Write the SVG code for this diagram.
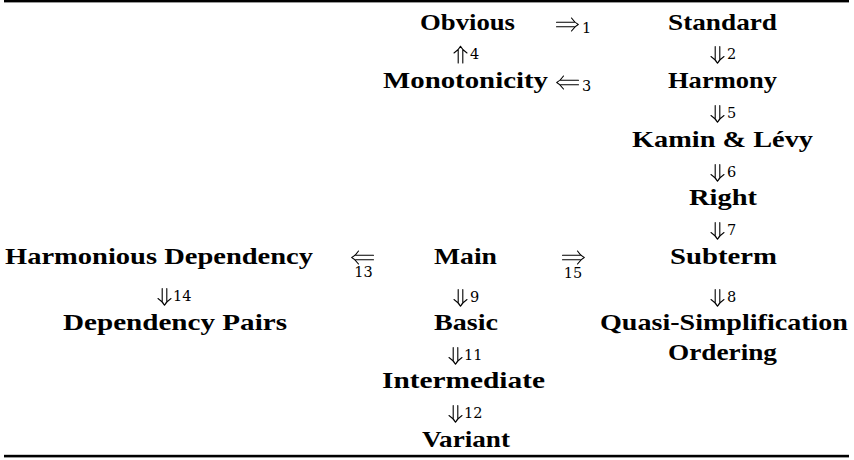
<svg xmlns="http://www.w3.org/2000/svg" xmlns:xlink="http://www.w3.org/1999/xlink" width="854" height="460" viewBox="0 0 854 460">
<style>
.n{font-family:"Liberation Serif","DejaVu Serif",serif;font-weight:bold;font-size:23.5px;fill:#000;text-anchor:middle}
.d{font-family:"DejaVu Serif","Liberation Serif",serif;font-size:14.5px;fill:#000}
.c{text-anchor:middle}
.a{fill:none;stroke:#000;stroke-width:1.1;stroke-linecap:round}
</style>
<defs>
<path id="ra" class="a" d="M-21.5,-2.3H-3.5M-21.5,2.3H-3.5M-6.5,-6.5Q-3,-1.5 0.3,0M-6.5,6.5Q-3,1.5 0.3,0"/>
<path id="da" class="a" d="M-2.3,-16.5V-3.5M2.3,-16.5V-3.5M-6.5,-6.5Q-1.5,-3 0,0.3M6.5,-6.5Q1.5,-3 0,0.3"/>
</defs>
<rect width="854" height="460" fill="#fff"/>
<rect x="4" y="0" width="845" height="2.4" fill="#000"/>
<rect x="4" y="454.8" width="845" height="2.6" fill="#000"/>
<g id="obvious"><text class="n" x="467.5" y="30" textLength="95" lengthAdjust="spacingAndGlyphs">Obvious</text></g>
<g id="standard"><text class="n" x="722.5" y="30" textLength="109" lengthAdjust="spacingAndGlyphs">Standard</text></g>
<g id="monotonicity"><text class="n" x="465.5" y="88" textLength="165" lengthAdjust="spacingAndGlyphs">Monotonicity</text></g>
<g id="harmony"><text class="n" x="722.5" y="88" textLength="109" lengthAdjust="spacingAndGlyphs">Harmony</text></g>
<g id="kamin-levy"><text class="n" x="722.5" y="147" textLength="181" lengthAdjust="spacingAndGlyphs">Kamin &amp; Lévy</text></g>
<g id="right"><text class="n" x="723" y="205" textLength="68" lengthAdjust="spacingAndGlyphs">Right</text></g>
<g id="harmonious-dependency"><text class="n" x="159" y="264" textLength="308" lengthAdjust="spacingAndGlyphs">Harmonious Dependency</text></g>
<g id="main"><text class="n" x="465.5" y="264" textLength="63" lengthAdjust="spacingAndGlyphs">Main</text></g>
<g id="subterm"><text class="n" x="723.5" y="264" textLength="107" lengthAdjust="spacingAndGlyphs">Subterm</text></g>
<g id="dependency-pairs"><text class="n" x="175" y="330" textLength="224" lengthAdjust="spacingAndGlyphs">Dependency Pairs</text></g>
<g id="basic"><text class="n" x="466" y="330" textLength="64" lengthAdjust="spacingAndGlyphs">Basic</text></g>
<g id="quasi-simplification-ordering"><text class="n" x="724" y="330" textLength="248" lengthAdjust="spacingAndGlyphs">Quasi-Simplification</text><text class="n" x="722.5" y="360" textLength="109" lengthAdjust="spacingAndGlyphs">Ordering</text></g>
<g id="intermediate"><text class="n" x="463.5" y="388" textLength="163" lengthAdjust="spacingAndGlyphs">Intermediate</text></g>
<g id="variant"><text class="n" x="466" y="447" textLength="88" lengthAdjust="spacingAndGlyphs">Variant</text></g>
<g id="connectors">
<g id="c1"><use xlink:href="#ra" transform="translate(578,24.5)"/><text class="d" x="582" y="33">1</text></g>
<g id="c2"><use xlink:href="#da" transform="translate(717.5,63)"/><text class="d" x="727" y="59">2</text></g>
<g id="c3"><use xlink:href="#ra" transform="translate(557,82.5) scale(-1,1)"/><text class="d" x="582" y="91">3</text></g>
<g id="c4"><use xlink:href="#da" transform="translate(460.5,46.5) scale(1,-1)"/><text class="d" x="470" y="59">4</text></g>
<g id="c5"><use xlink:href="#da" transform="translate(717.5,122)"/><text class="d" x="727" y="118">5</text></g>
<g id="c6"><use xlink:href="#da" transform="translate(717.5,181)"/><text class="d" x="727" y="177">6</text></g>
<g id="c7"><use xlink:href="#da" transform="translate(717.5,239)"/><text class="d" x="727" y="235">7</text></g>
<g id="c8"><use xlink:href="#da" transform="translate(717.5,306)"/><text class="d" x="727" y="302">8</text></g>
<g id="c9"><use xlink:href="#da" transform="translate(460.5,306)"/><text class="d" x="470" y="302">9</text></g>
<g id="c11"><use xlink:href="#da" transform="translate(455.5,364)"/><text class="d" x="464" y="360">11</text></g>
<g id="c12"><use xlink:href="#da" transform="translate(455.5,422)"/><text class="d" x="464" y="418">12</text></g>
<g id="c13"><use xlink:href="#ra" transform="translate(352,257.5) scale(-1,1)"/><text class="d c" x="363.5" y="277">13</text></g>
<g id="c14"><use xlink:href="#da" transform="translate(164.5,305)"/><text class="d" x="173" y="301">14</text></g>
<g id="c15"><use xlink:href="#ra" transform="translate(584,257.5)"/><text class="d c" x="573" y="278">15</text></g>
</g>
</svg>
